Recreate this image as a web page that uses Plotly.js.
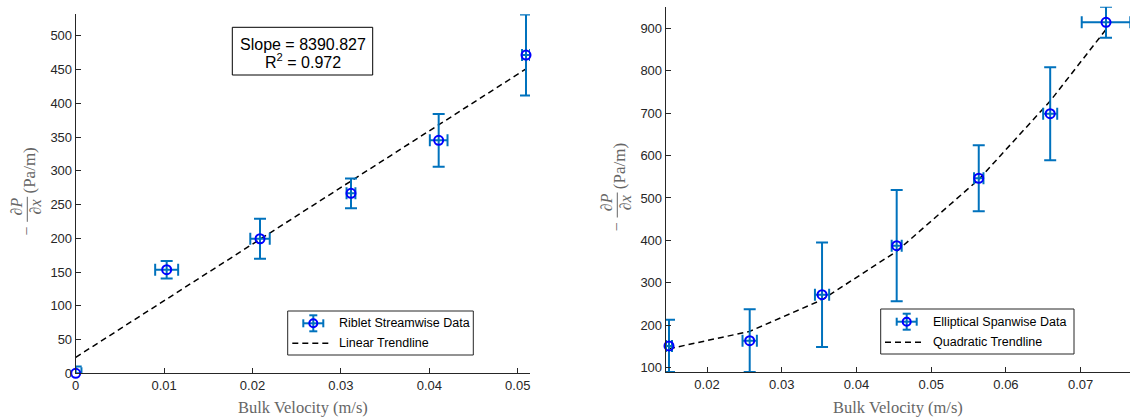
<!DOCTYPE html>
<html>
<head>
<meta charset="utf-8">
<script src="https://cdn.plot.ly/plotly-3.0.1.min.js"></script>
<style>
  html, body { margin: 0; padding: 0; background: #ffffff; }
  #chart { width: 1130px; height: 419px; }
</style>
</head>
<body>
<div id="chart"></div>
<script>
// ---- Riblet, streamwise flow ----
const ribletVelocity     = [0, 0.01029, 0.02085, 0.03114, 0.04106, 0.05094];
const ribletVelocityErr  = [0.00065, 0.0013, 0.0011, 0.0005, 0.0010, 0.00045];
const ribletGradient     = [0, 153.5, 199.4, 266.7, 345.2, 471.6];
const ribletGradientErr  = [10, 13, 29.5, 22, 39, 60];
const ribletSlope = 8390.827;
const ribletR2 = 0.972;

// ---- Elliptical, spanwise flow ----
const ellipticVelocity    = [0.01491, 0.02571, 0.03539, 0.04538, 0.05636, 0.06592, 0.07339];
const ellipticVelocityErr = [0.0004, 0.00096, 0.00095, 0.00067, 0.00063, 0.00094, 0.00325];
const ellipticGradient    = [151.2, 163.6, 272.0, 387.6, 546.5, 698.8, 914.3];
const ellipticGradientErr = [61.5, 74, 123.3, 131, 78, 109.6, 36.7];

// ---- tick labels ----
const leftXTicks  = [0, 0.01, 0.02, 0.03, 0.04, 0.05];
const leftXLabels = ['0', '0.01', '0.02', '0.03', '0.04', '0.05'];
const leftYTicks  = [0, 50, 100, 150, 200, 250, 300, 350, 400, 450, 500];
const rightXTicks  = [0.02, 0.03, 0.04, 0.05, 0.06, 0.07];
const rightXLabels = ['0.02', '0.03', '0.04', '0.05', '0.06', '0.07'];
const rightYTicks  = [100, 200, 300, 400, 500, 600, 700, 800, 900];

// ---- text ----
const ribletName   = 'Riblet Streamwise Data';
const linearName   = 'Linear Trendline';
const ellipticName = 'Elliptical Spanwise Data';
const quadName     = 'Quadratic Trendline';
const xTitle       = 'Bulk Velocity (m/s)';

// least-squares intercept for the stated slope
function mean(a) { return a.reduce((s, v) => s + v, 0) / a.length; }
const ribletIntercept = mean(ribletGradient) - ribletSlope * mean(ribletVelocity);
const linearFit = ribletVelocity.map(v => ribletIntercept + ribletSlope * v);

// least-squares quadratic y = a + b x + c x^2
function quadFit(x, y) {
  const S = [0, 0, 0, 0, 0], T = [0, 0, 0];
  for (let i = 0; i < x.length; i++) {
    for (let k = 0; k < 5; k++) S[k] += Math.pow(x[i], k);
    for (let k = 0; k < 3; k++) T[k] += y[i] * Math.pow(x[i], k);
  }
  const M = [[S[0], S[1], S[2], T[0]], [S[1], S[2], S[3], T[1]], [S[2], S[3], S[4], T[2]]];
  for (let c = 0; c < 3; c++) {
    for (let r = c + 1; r < 3; r++) {
      const f = M[r][c] / M[c][c];
      for (let k = c; k < 4; k++) M[r][k] -= f * M[c][k];
    }
  }
  const p = [0, 0, 0];
  for (let r = 2; r >= 0; r--) {
    let s = M[r][3];
    for (let k = r + 1; k < 3; k++) s -= M[r][k] * p[k];
    p[r] = s / M[r][r];
  }
  return p;
}
const qc = quadFit(ellipticVelocity, ellipticGradient);
const quadCurve = ellipticVelocity.map(v => qc[0] + qc[1] * v + qc[2] * v * v);

// ---- figure geometry (pixels) ----
const W = 1130, H = 419;
const L = { x0: 75.7, x1: 530, y0: 14.3, y1: 373.3 };
const R = { x0: 665.7, x1: 1130, y0: 6.7, y1: 372.3 };
const px = x => x / W;
const py = y => 1 - y / H;

const ERR_BLUE = '#0072BD';
const AXIS = '#262626';
const LABEL_GRAY = '#666666';
const SANS = 'Liberation Sans, Arial, sans-serif';
const SERIF = 'Liberation Serif, Times New Roman, serif';

function dataTrace(x, xe, y, ye, xa, ya) {
  const err = (arr) => ({ type: 'data', array: arr, visible: true, color: ERR_BLUE, thickness: 2, width: 6 });
  return {
    x: x, y: y, xaxis: xa, yaxis: ya, type: 'scatter', mode: 'markers',
    error_x: err(xe), error_y: err(ye),
    marker: { symbol: 'circle-open', size: 9, color: '#0000FF', line: { width: 2, color: '#0000FF' } },
    cliponaxis: false, showlegend: false, hoverinfo: 'x+y'
  };
}
function trendTrace(x, y, xa, ya) {
  return {
    x: x, y: y, xaxis: xa, yaxis: ya, type: 'scatter', mode: 'lines',
    line: { color: '#000000', width: 1.5, dash: '6px,4px' },
    showlegend: false, hoverinfo: 'skip'
  };
}

const traces = [
  trendTrace(ribletVelocity, linearFit, 'x', 'y'),
  dataTrace(ribletVelocity, ribletVelocityErr, ribletGradient, ribletGradientErr, 'x', 'y'),
  trendTrace(ellipticVelocity, quadCurve, 'x2', 'y2'),
  dataTrace(ellipticVelocity, ellipticVelocityErr, ellipticGradient, ellipticGradientErr, 'x2', 'y2')
];

function axisBase() {
  return {
    showline: true, linecolor: AXIS, linewidth: 1, mirror: false,
    ticks: 'inside', ticklen: 5, tickwidth: 1, tickcolor: AXIS,
    showgrid: false, zeroline: false, fixedrange: true,
    tickfont: { family: SANS, size: 13, color: AXIS }, tickmode: 'array'
  };
}

const layout = {
  width: W, height: H,
  margin: { l: 0, r: 0, t: 0, b: 0 },
  paper_bgcolor: '#ffffff', plot_bgcolor: '#ffffff',
  xaxis: Object.assign(axisBase(), {
    domain: [px(L.x0), px(L.x1)], range: [0, 0.05139], anchor: 'y',
    tickvals: leftXTicks, ticktext: leftXLabels
  }),
  yaxis: Object.assign(axisBase(), {
    domain: [py(L.y1), py(L.y0)], range: [0, 532], anchor: 'x',
    tickvals: leftYTicks, ticktext: leftYTicks.map(String)
  }),
  xaxis2: Object.assign(axisBase(), {
    domain: [px(R.x0), px(R.x1)], range: [0.01447, 0.0766], anchor: 'y2',
    tickvals: rightXTicks, ticktext: rightXLabels
  }),
  yaxis2: Object.assign(axisBase(), {
    domain: [py(R.y1), py(R.y0)], range: [89, 951], anchor: 'x2',
    tickvals: rightYTicks, ticktext: rightYTicks.map(String)
  }),
  shapes: [],
  annotations: []
};

function textAt(x, y, text, font, extra) {
  layout.annotations.push(Object.assign({
    xref: 'paper', yref: 'paper', x: px(x), y: py(y), text: text,
    showarrow: false, xanchor: 'center', yanchor: 'middle', font: font
  }, extra || {}));
}
function lineAt(x0, y0, x1, y1, color, width, dash) {
  layout.shapes.push({
    type: 'line', xref: 'paper', yref: 'paper',
    x0: px(x0), y0: py(y0), x1: px(x1), y1: py(y1),
    line: { color: color, width: width, dash: dash || 'solid' }
  });
}
function rectAt(x0, y0, x1, y1, color) {
  layout.shapes.push({
    type: 'rect', xref: 'paper', yref: 'paper',
    x0: px(x0), y0: py(y1), x1: px(x1), y1: py(y0),
    line: { color: color, width: 1 }, fillcolor: '#ffffff', layer: 'above'
  });
}

// axis titles: -dP/dx (Pa/m), built as a rotated fraction
const serifFont = (s) => ({ family: SERIF, size: s, color: LABEL_GRAY });
function yTitle(axisX, plot) {
  const cy = (plot.y0 + plot.y1) / 2;
  const rot = { textangle: -90 };
  textAt(axisX - 46, cy - 23, '(Pa/m)', serifFont(17), rot);
  textAt(axisX - 59, cy + 13, '∂<i>P</i>', serifFont(16), rot);
  lineAt(axisX - 48.4, cy + 3, axisX - 48.4, cy + 28, LABEL_GRAY, 1);
  textAt(axisX - 40, cy + 13, '∂<i>x</i>', serifFont(16), rot);
  textAt(axisX - 48.9, cy + 37, '−', serifFont(16), rot);
}
yTitle(L.x0, L);
yTitle(R.x0, R);
textAt((L.x0 + L.x1) / 2, 407, xTitle, serifFont(16.5));
textAt((R.x0 + R.x1) / 2, 407, xTitle, serifFont(16.5));

// fit statistics box
rectAt(232.3, 27.3, 372.7, 75, '#000000');
const boxFont = { family: SANS, size: 16, color: '#000000' };
textAt(302.5, 44.5, 'Slope = ' + ribletSlope.toFixed(3), boxFont);
textAt(302.5, 60.5, 'R<sup>2</sup> = ' + ribletR2.toFixed(3), boxFont);

// legends
const legendFont = { family: SANS, size: 12.5, color: '#000000' };
function legendBox(box, glyphX, textX, row1, row2, lineX0, lineX1, dataLabel, fitLabel) {
  rectAt(box[0], box[1], box[2], box[3], AXIS);
  // error-bar glyph
  lineAt(glyphX - 10, row1, glyphX + 10, row1, ERR_BLUE, 2);
  lineAt(glyphX - 10, row1 - 4, glyphX - 10, row1 + 4, ERR_BLUE, 2);
  lineAt(glyphX + 10, row1 - 4, glyphX + 10, row1 + 4, ERR_BLUE, 2);
  lineAt(glyphX, row1 - 8, glyphX, row1 + 8, ERR_BLUE, 2);
  lineAt(glyphX - 4, row1 - 8, glyphX + 4, row1 - 8, ERR_BLUE, 2);
  lineAt(glyphX - 4, row1 + 8, glyphX + 4, row1 + 8, ERR_BLUE, 2);
  layout.shapes.push({
    type: 'circle', xref: 'paper', yref: 'paper',
    x0: px(glyphX - 4), x1: px(glyphX + 4), y0: py(row1 + 4), y1: py(row1 - 4),
    line: { color: '#0000FF', width: 2 }, fillcolor: 'rgba(0,0,0,0)'
  });
  lineAt(lineX0, row2, lineX1, row2, '#000000', 1.5, '6px,4px');
  textAt(textX, row1, dataLabel, legendFont, { xanchor: 'left' });
  textAt(textX, row2, fitLabel, legendFont, { xanchor: 'left' });
}
legendBox([287.7, 311, 473.3, 355], 313.3, 336.5, 323.3, 343.3, 292.3, 331, ribletName, linearName);
legendBox([880.7, 309, 1074, 354], 906.7, 930.5, 321.7, 342.3, 885, 925, ellipticName, quadName);

Plotly.newPlot('chart', traces, layout, { displayModeBar: false, staticPlot: true });
</script>
</body>
</html>
